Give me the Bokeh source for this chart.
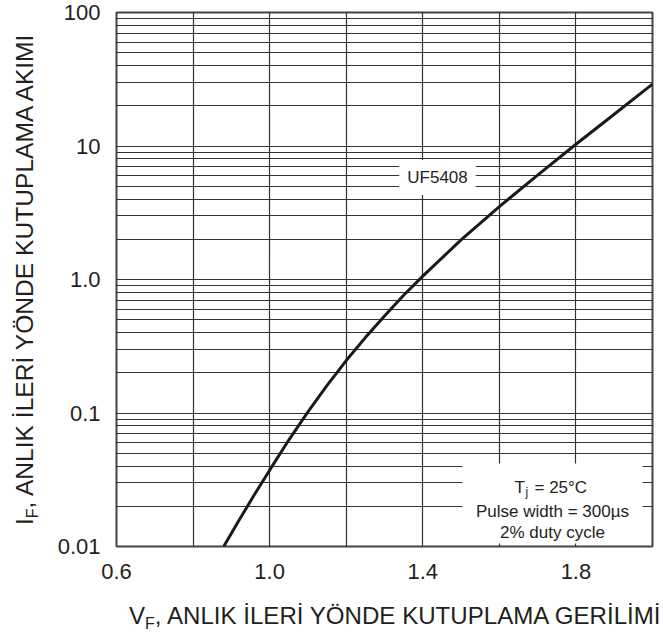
import math
from bokeh.plotting import figure
from bokeh.models import Range1d, FixedTicker, CustomJSTickFormatter, Label, BoxAnnotation, Div
from bokeh.layouts import row, column
from bokeh.embed import file_html
from bokeh.resources import INLINE

# Forward voltage (V) vs instantaneous forward current (A), UF5408 curve
vf = [0.88, 0.92, 0.96, 1.00, 1.05, 1.10, 1.15, 1.20, 1.25, 1.30, 1.35, 1.40, 1.50, 1.60, 1.70, 1.80, 1.90, 2.00]
i_f = [0.0100, 0.0157, 0.0244, 0.0373, 0.0627, 0.102, 0.161, 0.247, 0.367, 0.533, 0.762, 1.06,
       1.98, 3.52, 6.05, 10.3, 17.3, 29.1]

x_ticks = [0.6, 1.0, 1.4, 1.8]
x_tick_labels = ["0.6", "1.0", "1.4", "1.8"]
y_ticks = [0.01, 0.1, 1, 10, 100]
y_tick_labels = ["0.01", "0.1", "1.0", "10", "100"]
x_grid = [0.8, 1.0, 1.2, 1.4, 1.6, 1.8]
y_grid = [m * 10.0 ** e for e in range(-2, 2) for m in range(1, 10)]

x_title_main, x_title_sub, x_title_rest = "V", "F", ", ANLIK İLERİ YÖNDE KUTUPLAMA GERİLİMİ"
y_title_main, y_title_sub, y_title_rest = "I", "F", ", ANLIK İLERİ YÖNDE KUTUPLAMA AKIMI"

FONT = "Liberation Sans"
CSS_FONT = "'Liberation Sans', Arial, sans-serif"
INK = "#231f20"


def fmt(vals, labs):
    return CustomJSTickFormatter(args=dict(vals=vals, labs=labs), code="""
for (let i = 0; i < vals.length; i++) {
  if (Math.abs(vals[i] - tick) <= 1e-9 * Math.max(1, Math.abs(tick))) return labs[i];
}
return "";
""")


p = figure(width=620, height=590, x_range=Range1d(0.6, 2.0), y_range=Range1d(0.01, 100),
           y_axis_type="log", output_backend="svg", toolbar_location=None,
           min_border_left=76, min_border_right=8, min_border_top=12, min_border_bottom=44,
           margin=0)
p.background_fill_color = "white"
p.border_fill_color = "white"
p.outline_line_color = "#444444"
p.outline_line_width = 2

for ax, ticks, labs, standoff in ((p.xaxis[0], x_ticks, x_tick_labels, 17),
                                  (p.yaxis[0], y_ticks, y_tick_labels, 16)):
    ax.ticker = FixedTicker(ticks=ticks)
    ax.formatter = fmt(ticks, labs)
    ax.axis_line_color = None
    ax.major_tick_line_color = None
    ax.minor_tick_line_color = None
    ax.major_tick_out = 0
    ax.major_tick_in = 0
    ax.major_label_standoff = standoff
    ax.major_label_text_font = FONT
    ax.major_label_text_font_size = "22px"
    ax.major_label_text_color = INK

p.xgrid.ticker = FixedTicker(ticks=x_grid)
p.ygrid.ticker = FixedTicker(ticks=y_grid)
for g in (p.xgrid[0], p.ygrid[0]):
    g.grid_line_color = "#333333"
    g.grid_line_width = 1.2
    g.grid_line_alpha = 1.0

p.line(vf, i_f, line_color="#1a1a1a", line_width=3)


def lab(x, y, text, size, align="left", baseline="alphabetic", **kw):
    p.add_layout(Label(x=x, y=y, x_units="screen", y_units="screen", text=text,
                       text_font=FONT, text_font_size=size, text_color=INK,
                       text_align=align, text_baseline=baseline, **kw))


# curve name
lab(321, 369, "UF5408", "17px", align="center", baseline="middle",
    background_fill_color="white", padding=8)

# conditions box
p.add_layout(BoxAnnotation(left=346, right=526, bottom=3, top=83,
                           left_units="screen", right_units="screen",
                           bottom_units="screen", top_units="screen",
                           fill_color="white", fill_alpha=1.0, line_color=None))
lab(398, 59, "T", "17px")
lab(409, 55, "j", "12px")
lab(418, 59, "= 25°C", "17px")
lab(436, 35, "Pulse width = 300µs", "17px", align="center")
lab(436, 14, "2% duty cycle", "17px", align="center")

# axis titles as HTML (subscripts)
sub_css = "font-size:16px;vertical-align:-5px;"
y_html = (f'<div style="position:relative;left:11px;top:525px;width:max-content;white-space:nowrap;'
          f'transform-origin:0 0;transform:rotate(-90deg);font-family:{CSS_FONT};font-size:24.6px;'
          f'line-height:normal;color:{INK};">{y_title_main}<span style="{sub_css}">{y_title_sub}</span>'
          f'{y_title_rest}</div>')
x_html = (f'<div style="position:relative;left:89px;top:12px;width:max-content;white-space:nowrap;'
          f'font-family:{CSS_FONT};font-size:24.1px;line-height:normal;color:{INK};">'
          f'{x_title_main}<span style="{sub_css}">{x_title_sub}</span>{x_title_rest}</div>')

div_y = Div(text=y_html, width=40, height=636, margin=0)
div_x = Div(text=x_html, width=623, height=46, margin=0)

layout = row(div_y, column(p, div_x, spacing=0, margin=0), spacing=0, margin=0)

open("out.html", "w").write(file_html(layout, INLINE))
